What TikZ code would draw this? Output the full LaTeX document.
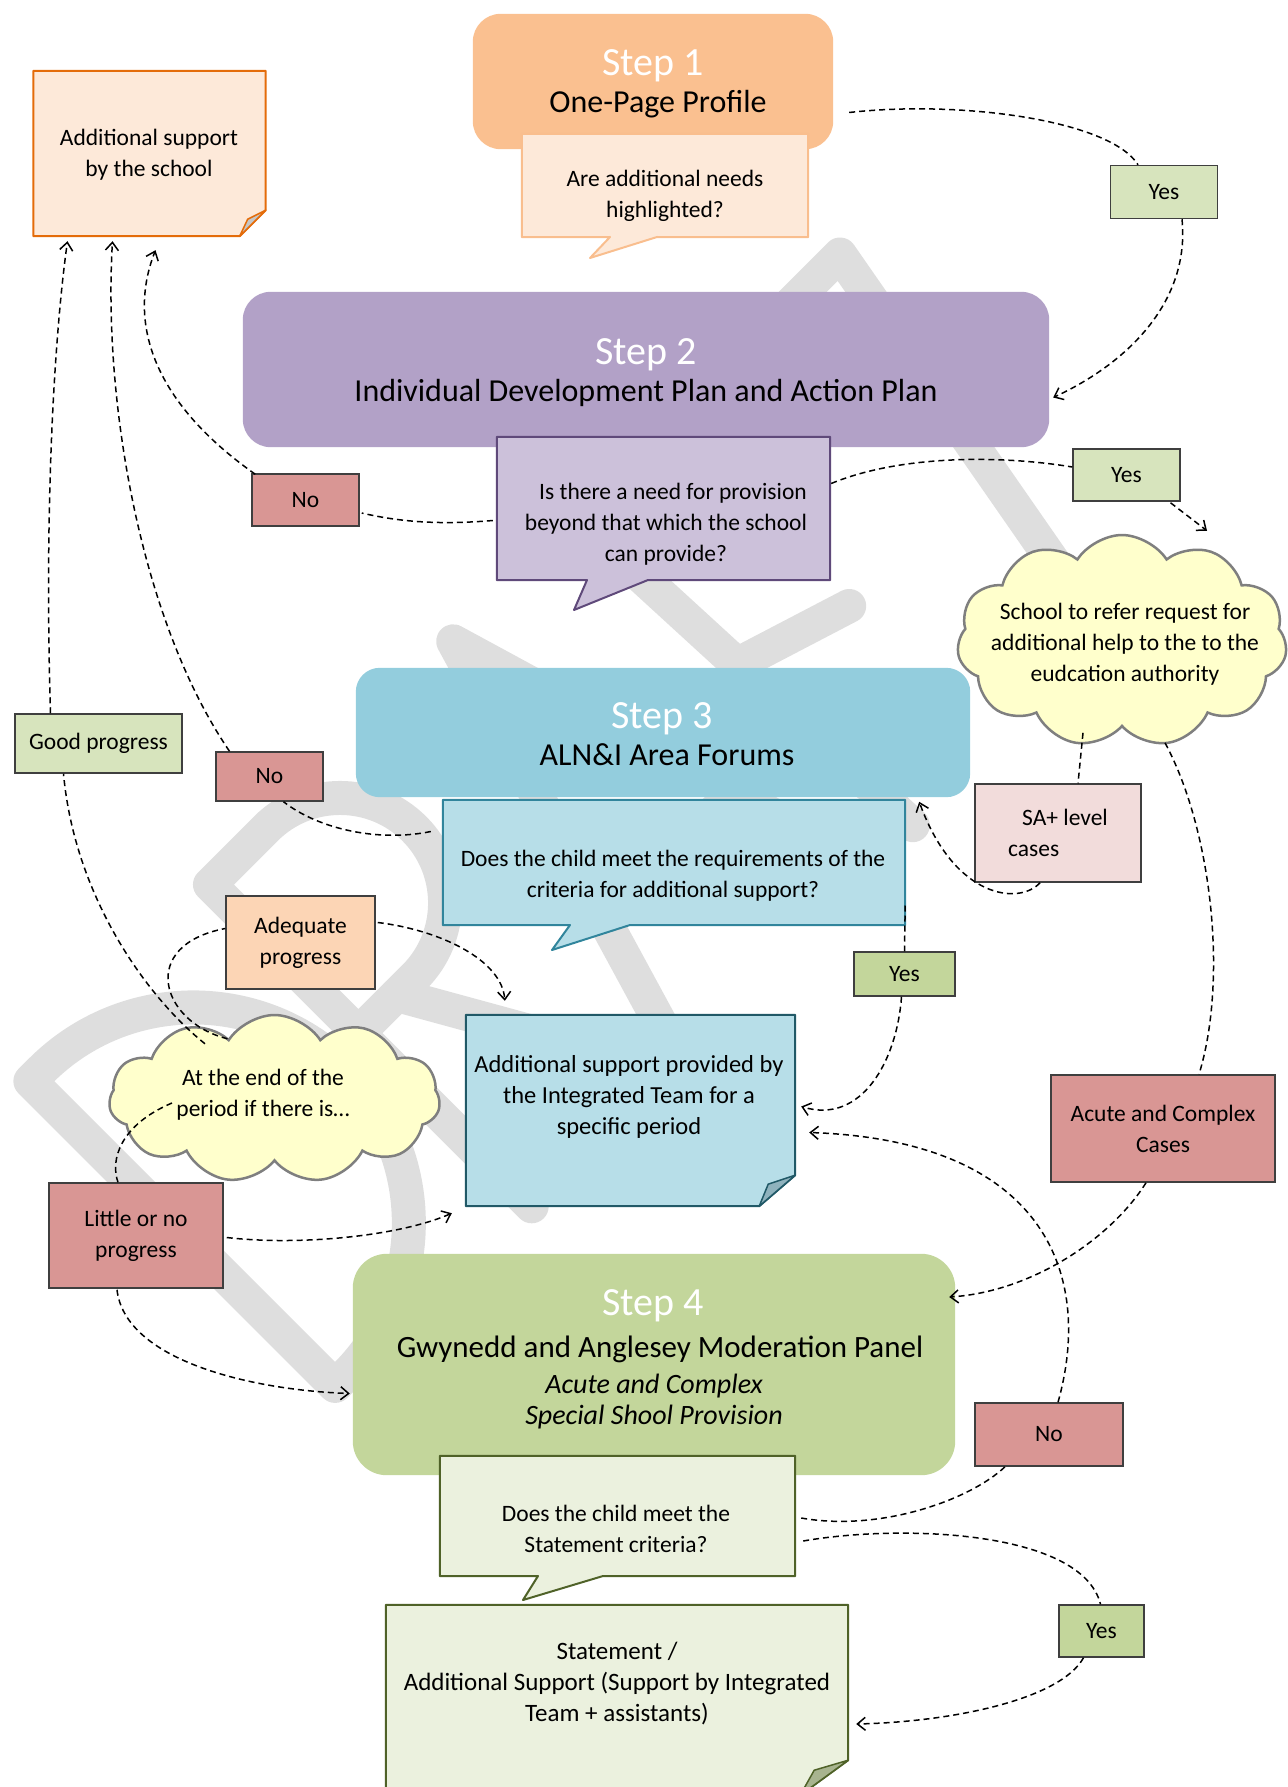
\documentclass[tikz,border=0pt]{standalone}
\usepackage{fontspec}
\setmainfont{Carlito}
\usetikzlibrary{arrows.meta,shapes.symbols}
\definecolor{stepone}{HTML}{FAC090}
\definecolor{bubone}{HTML}{FDE9D9}
\definecolor{buboned}{HTML}{F9BE8E}
\definecolor{noteoned}{HTML}{E46C0A}
\definecolor{yeslight}{HTML}{D7E4BD}
\definecolor{yesdark}{HTML}{C3D69B}
\definecolor{nored}{HTML}{D99694}
\definecolor{steptwo}{HTML}{B2A1C7}
\definecolor{bubtwo}{HTML}{CCC1DA}
\definecolor{bubtwod}{HTML}{5F497A}
\definecolor{stepthree}{HTML}{93CDDD}
\definecolor{bubthree}{HTML}{B7DEE8}
\definecolor{bubthreed}{HTML}{31859C}
\definecolor{notetwod}{HTML}{215967}
\definecolor{foldtwo}{HTML}{8FB2BD}
\definecolor{sapink}{HTML}{F2DCDB}
\definecolor{adeqc}{HTML}{FCD5B5}
\definecolor{cloudfill}{HTML}{FFFFCC}
\definecolor{cloudd}{HTML}{7F7F7F}
\definecolor{stepfour}{HTML}{C3D69B}
\definecolor{bubfour}{HTML}{EBF1DE}
\definecolor{bubfourd}{HTML}{4F6228}
\definecolor{foldfour}{HTML}{A8B48F}
\definecolor{wmgray}{HTML}{DEDEDE}
\definecolor{labd}{HTML}{3F3F3F}
\pgfdeclarelayer{wm}
\pgfdeclarelayer{bg}
\pgfsetlayers{wm,bg,main}
\begin{document}
\begin{tikzpicture}[x=1pt,y=-1pt,
  geo/.style={draw=none,inner sep=0pt},
  sm/.style={font=\fontsize{23.5}{31}\selectfont,align=center,inner sep=0pt},
  lab/.style={sm,draw=labd,line width=1.5pt},
  hdw/.style={anchor=base,inner sep=0pt,text=white,font=\fontsize{40}{44}\selectfont},
  hdb/.style={anchor=base,inner sep=0pt,font=\fontsize{31}{36}\selectfont},
  hdi/.style={anchor=base,inner sep=0pt,font=\fontsize{28}{32}\selectfont\itshape},
  cloudbox/.style={cloud,cloud puffs=11,cloud puff arc=115,cloud ignores aspect,
    draw=cloudd,fill=cloudfill,line width=2.5pt,inner sep=0pt},
  conn/.style={line width=1.5pt,dash pattern=on 6pt off 4pt},
  arr/.style={conn,-{Straight Barb[length=8pt,width=13pt]}}]
\useasboundingbox (0,0) rectangle (1287,1787);

% ---------- watermark ----------
\begin{pgfonlayer}{wm}
\begin{scope}[shift={(333,1405)},x={(0.7071pt,0.7071pt)},y={(-0.7071pt,0.7071pt)},
  draw=wmgray,line width=34pt,line cap=round,line join=round]
\draw (15,12) -- (15,443) -- (30,443) arc[start angle=90,end angle=-90,radius=215.5] -- cycle;
\draw (281,0) -- (281,455) -- (360,455) arc[start angle=90,end angle=-90,radius=105] -- (281,245);
\draw (335,245) -- (475,0);
\draw (490,0) -- (625,455) -- (760,0);
\draw (535,150) -- (715,150);
\draw (820,0) -- (800,455) -- (985,455);
\draw (809,238) -- (930,200);
\draw (1000,455) -- (1172,455) -- (1090,0);
\end{scope}
\end{pgfonlayer}

% ---------- geometry nodes ----------
\node[geo,minimum width=360,minimum height=135] (step1) at (653,81.5) {};
\node[geo,minimum width=286,minimum height=103] (q1) at (665,185.5) {};
\node[geo,minimum width=232,minimum height=165] (addl) at (149.5,153.5) {};
\node[geo,minimum width=806,minimum height=155] (step2) at (646,369.5) {};
\node[geo,minimum width=333,minimum height=143] (q2) at (663.5,508.5) {};
\node[geo,minimum width=614,minimum height=129] (step3) at (663,732.5) {};
\node[geo,minimum width=462,minimum height=125] (q3) at (674,862.5) {};
\node[geo,minimum width=329,minimum height=191] (note2) at (630.5,1110.5) {};
\node[geo,minimum width=602,minimum height=221] (step4) at (654,1364.5) {};
\node[geo,minimum width=355,minimum height=120] (q4) at (617.5,1516) {};
\node[geo,minimum width=462,minimum height=190] (stmt) at (617,1700) {};

% ---------- filled shapes ----------
\begin{pgfonlayer}{bg}
\fill[stepone,rounded corners=28pt] (step1.north west) rectangle (step1.south east);
\filldraw[fill=bubone,draw=buboned,line width=2pt,line join=round]
  (q1.north west) -- (q1.north east) -- (q1.south east) -- (657,237) -- (590,258) -- (610,237)
  -- (q1.south west) -- cycle;
\filldraw[fill=bubone,draw=noteoned,line width=2pt,line join=round]
  (addl.north west) -- (addl.north east) -- ([shift={(0,-26)}]addl.south east)
  -- ([shift={(-26,0)}]addl.south east) -- (addl.south west) -- cycle;
\filldraw[fill=gray!45,draw=noteoned,line width=1.5pt,line join=round]
  ([shift={(0,-26)}]addl.south east) -- ([shift={(-18,-17)}]addl.south east)
  -- ([shift={(-26,0)}]addl.south east) -- cycle;
\fill[steptwo,rounded corners=28pt] (step2.north west) rectangle (step2.south east);
\filldraw[fill=bubtwo,draw=bubtwod,line width=2pt,line join=round]
  (q2.north west) -- (q2.north east) -- (q2.south east) -- (648,580) -- (574,610) -- (587,580)
  -- (q2.south west) -- cycle;
\fill[stepthree,rounded corners=24pt] (step3.north west) rectangle (step3.south east);
\filldraw[fill=bubthree,draw=bubthreed,line width=2pt,line join=round]
  (q3.north west) -- (q3.north east) -- (q3.south east) -- (630,925) -- (552,950) -- (570,925)
  -- (q3.south west) -- cycle;
\filldraw[fill=bubthree,draw=notetwod,line width=2pt,line join=round]
  (note2.north west) -- (note2.north east) -- ([shift={(0,-31)}]note2.south east)
  -- ([shift={(-36,0)}]note2.south east) -- (note2.south west) -- cycle;
\filldraw[fill=foldtwo,draw=notetwod,line width=1.5pt,line join=round]
  ([shift={(0,-31)}]note2.south east) -- ([shift={(-27,-22)}]note2.south east)
  -- ([shift={(-36,0)}]note2.south east) -- cycle;
\fill[stepfour,rounded corners=34pt] (step4.north west) rectangle (step4.south east);
\filldraw[fill=bubfour,draw=bubfourd,line width=2pt,line join=round]
  (q4.north west) -- (q4.north east) -- (q4.south east) -- (603,1576) -- (523,1600) -- (538,1576)
  -- (q4.south west) -- cycle;
\filldraw[fill=bubfour,draw=bubfourd,line width=2pt,line join=round]
  (stmt.north west) -- (stmt.north east) -- ([shift={(0,-35)}]stmt.south east)
  -- ([shift={(-48,0)}]stmt.south east) -- (stmt.south west) -- cycle;
\filldraw[fill=foldfour,draw=bubfourd,line width=1.5pt,line join=round]
  ([shift={(0,-35)}]stmt.south east) -- ([shift={(-34,-25)}]stmt.south east)
  -- ([shift={(-48,0)}]stmt.south east) -- cycle;
\end{pgfonlayer}

% ---------- step texts ----------
\node[hdw] (s1a) at (653,76) {Step 1};
\node[hdb,font=\fontsize{32}{36}\selectfont] (s1b) at (658,113) {One-Page Profile};
\node[hdw] (s2a) at (646,364) {Step 2};
\node[hdb,font=\fontsize{32}{36}\selectfont] (s2b) at (646,401) {Individual Development Plan and Action Plan};
\node[hdw] (s3a) at (662,728) {Step 3};
\node[hdb,font=\fontsize{32}{36}\selectfont] (s3b) at (667,765) {ALN\&I Area Forums};
\node[hdw] (s4a) at (653,1315) {Step 4};
\node[hdb] (s4b) at (660,1357) {Gwynedd and Anglesey Moderation Panel};
\node[hdi] (s4c) at (654,1393) {Acute and Complex};
\node[hdi] (s4d) at (654,1424) {Special Shool Provision};

% ---------- other texts ----------
\node[sm] (q1t) at (665,196) {Are additional needs\\highlighted?};
\node[sm] (addlt) at (149,155) {Additional support\\by the school};
\node[sm] (q2t) at (666,524) {\hspace*{14pt}Is there a need for provision\\beyond that which the school\\can provide?};
\node[sm] (q3t) at (673,876) {Does the child meet the requirements of the\\criteria for additional support?};
\node[sm,font=\fontsize{24.5}{31}\selectfont] (n2t) at (629,1097) {Additional support provided by\\the Integrated Team for a\\specific period};
\node[sm] (q4t) at (616,1529) {Does the child meet the\\Statement criteria?};
\node[sm,font=\fontsize{25}{31}\selectfont] (stt) at (617,1684) {Statement /\\Additional Support (Support by Integrated\\Team + assistants)};

% ---------- clouds ----------
\node[cloudbox,minimum width=330,minimum height=212] (cl1) at (1122,641) {};
\node[sm] (cl1t) at (1125,644) {School to refer request for\\additional help to the to the\\eudcation authority};
\node[cloudbox,minimum width=331,minimum height=168] (cl2) at (274.5,1099) {};
\node[sm] (cl2t) at (263,1095) {At the end of the\\period if there is\ldots};

% ---------- labels ----------
\node[lab,fill=yeslight,minimum width=107,minimum height=53] (yes1) at (1164,192) {Yes};
\node[lab,fill=nored,minimum width=107,minimum height=52] (no1) at (305.5,500) {No};
\node[lab,fill=yeslight,minimum width=107,minimum height=52] (yes2) at (1126.5,475) {Yes};
\node[lab,fill=yeslight,minimum width=167,minimum height=59] (goodp) at (98.5,743.5) {Good progress};
\node[lab,fill=nored,minimum width=107,minimum height=49] (no2) at (269.5,776.5) {No};
\node[lab,fill=sapink,minimum width=166,minimum height=98,align=left] (sa) at (1058,833) {\hspace*{14pt}SA+ level\\cases};
\node[lab,fill=adeqc,minimum width=149,minimum height=93] (adeq) at (300.5,942.5) {Adequate\\progress};
\node[lab,fill=yesdark,minimum width=101,minimum height=44] (yes3) at (904.5,974) {Yes};
\node[lab,fill=nored,minimum width=224,minimum height=107] (acute) at (1163,1128.5) {Acute and Complex\\Cases};
\node[lab,fill=nored,minimum width=174,minimum height=105] (little) at (136,1235.5) {Little or no\\progress};
\node[lab,fill=nored,minimum width=148,minimum height=63] (no3) at (1049,1434.5) {No};
\node[lab,fill=yesdark,minimum width=85,minimum height=52] (yes4) at (1101.5,1631) {Yes};

% ---------- connectors ----------
\draw[conn] ([shift={(16,31)}]step1.east) .. controls (960,100) and (1110,120) .. ([shift={(-26,0)}]yes1.north);
\draw[arr] ([shift={(18,0)}]yes1.south) .. controls (1190,300) and (1130,362) .. ([shift={(4,28)}]step2.east);
\draw[conn] ([shift={(-4,12)}]q2.west) .. controls (440,525) and (400,522) .. ([shift={(2,13)}]no1.east);
\draw[arr] ([shift={(4,1)}]no1.north west) .. controls (150,400) and (128,320) .. ([shift={(6,14)}]addl.south);
\draw[conn] ([shift={(1,-25)}]q2.east) .. controls (900,455) and (1000,455) .. ([shift={(0,-8)}]yes2.west);
\draw[arr] ([shift={(44,1)}]yes2.south) -- ([shift={(85,-3)}]cl1.north);
\draw[conn] ([shift={(-39,5)}]cl1.south) -- ([shift={(20,0)}]sa.north);
\draw[arr] ([shift={(-18,0)}]sa.south) .. controls (1020,905) and (955,900) .. ([shift={(14,2)}]q3.north east);
\draw[conn] ([shift={(43,15)}]cl1.south) .. controls (1212,830) and (1228,980) .. ([shift={(36,0)}]acute.north);
\draw[arr] ([shift={(-17,0)}]acute.south) .. controls (1110,1240) and (1030,1292) .. ([shift={(-6,-67.5)}]step4.east);
\draw[conn] ([shift={(-12,-31)}]q3.west) .. controls (380,842) and (320,830) .. ([shift={(14,0)}]no2.south);
\draw[arr] ([shift={(-40,0)}]no2.north) .. controls (140,620) and (103,400) .. ([shift={(-37,5)}]addl.south);
\draw[conn] ([shift={(0,43)}]q3.east) -- (yes3.north);
\draw[arr] ([shift={(-3,0)}]yes3.south) .. controls (897,1060) and (862,1125) .. ([shift={(6,-4)}]note2.east);
\draw[arr] ([shift={(-48,0)}]goodp.north) .. controls (44,500) and (55,330) .. ([shift={(-82,5)}]addl.south);
\draw[conn] ([shift={(-69.5,30)}]cl2.north) .. controls (150,1000) and (75,900) .. ([shift={(-35,0)}]goodp.south);
\draw[conn] ([shift={(-47,25)}]cl2.north) .. controls (160,1022) and (138,945) .. ([shift={(0,-14)}]adeq.west);
\draw[arr] ([shift={(2,-20)}]adeq.east) .. controls (440,930) and (502,960) .. ([shift={(39,-14)}]note2.north west);
\draw[conn] ([shift={(-102.5,4)}]cl2.center) .. controls (120,1125) and (110,1160) .. ([shift={(-18,0)}]little.north);
\draw[arr] ([shift={(3,2)}]little.east) .. controls (300,1246) and (400,1236) .. ([shift={(-14,7)}]note2.south west);
\draw[arr] ([shift={(-19,1)}]little.south) .. controls (125,1360) and (250,1390) .. ([shift={(-3,29)}]step4.west);
\draw[conn] ([shift={(6,2)}]q4.east) .. controls (880,1532) and (970,1500) .. ([shift={(-44,0)}]no3.south);
\draw[arr] ([shift={(9,0)}]no3.north) .. controls (1095,1270) and (1040,1140) .. ([shift={(14,22)}]note2.east);
\draw[conn] ([shift={(8,25)}]q4.east) .. controls (900,1524) and (1082,1530) .. ([shift={(-1,0)}]yes4.north);
\draw[arr] ([shift={(-18,0)}]yes4.south) .. controls (1060,1700) and (950,1722) .. ([shift={(8,24)}]stmt.east);
\end{tikzpicture}
\end{document}
